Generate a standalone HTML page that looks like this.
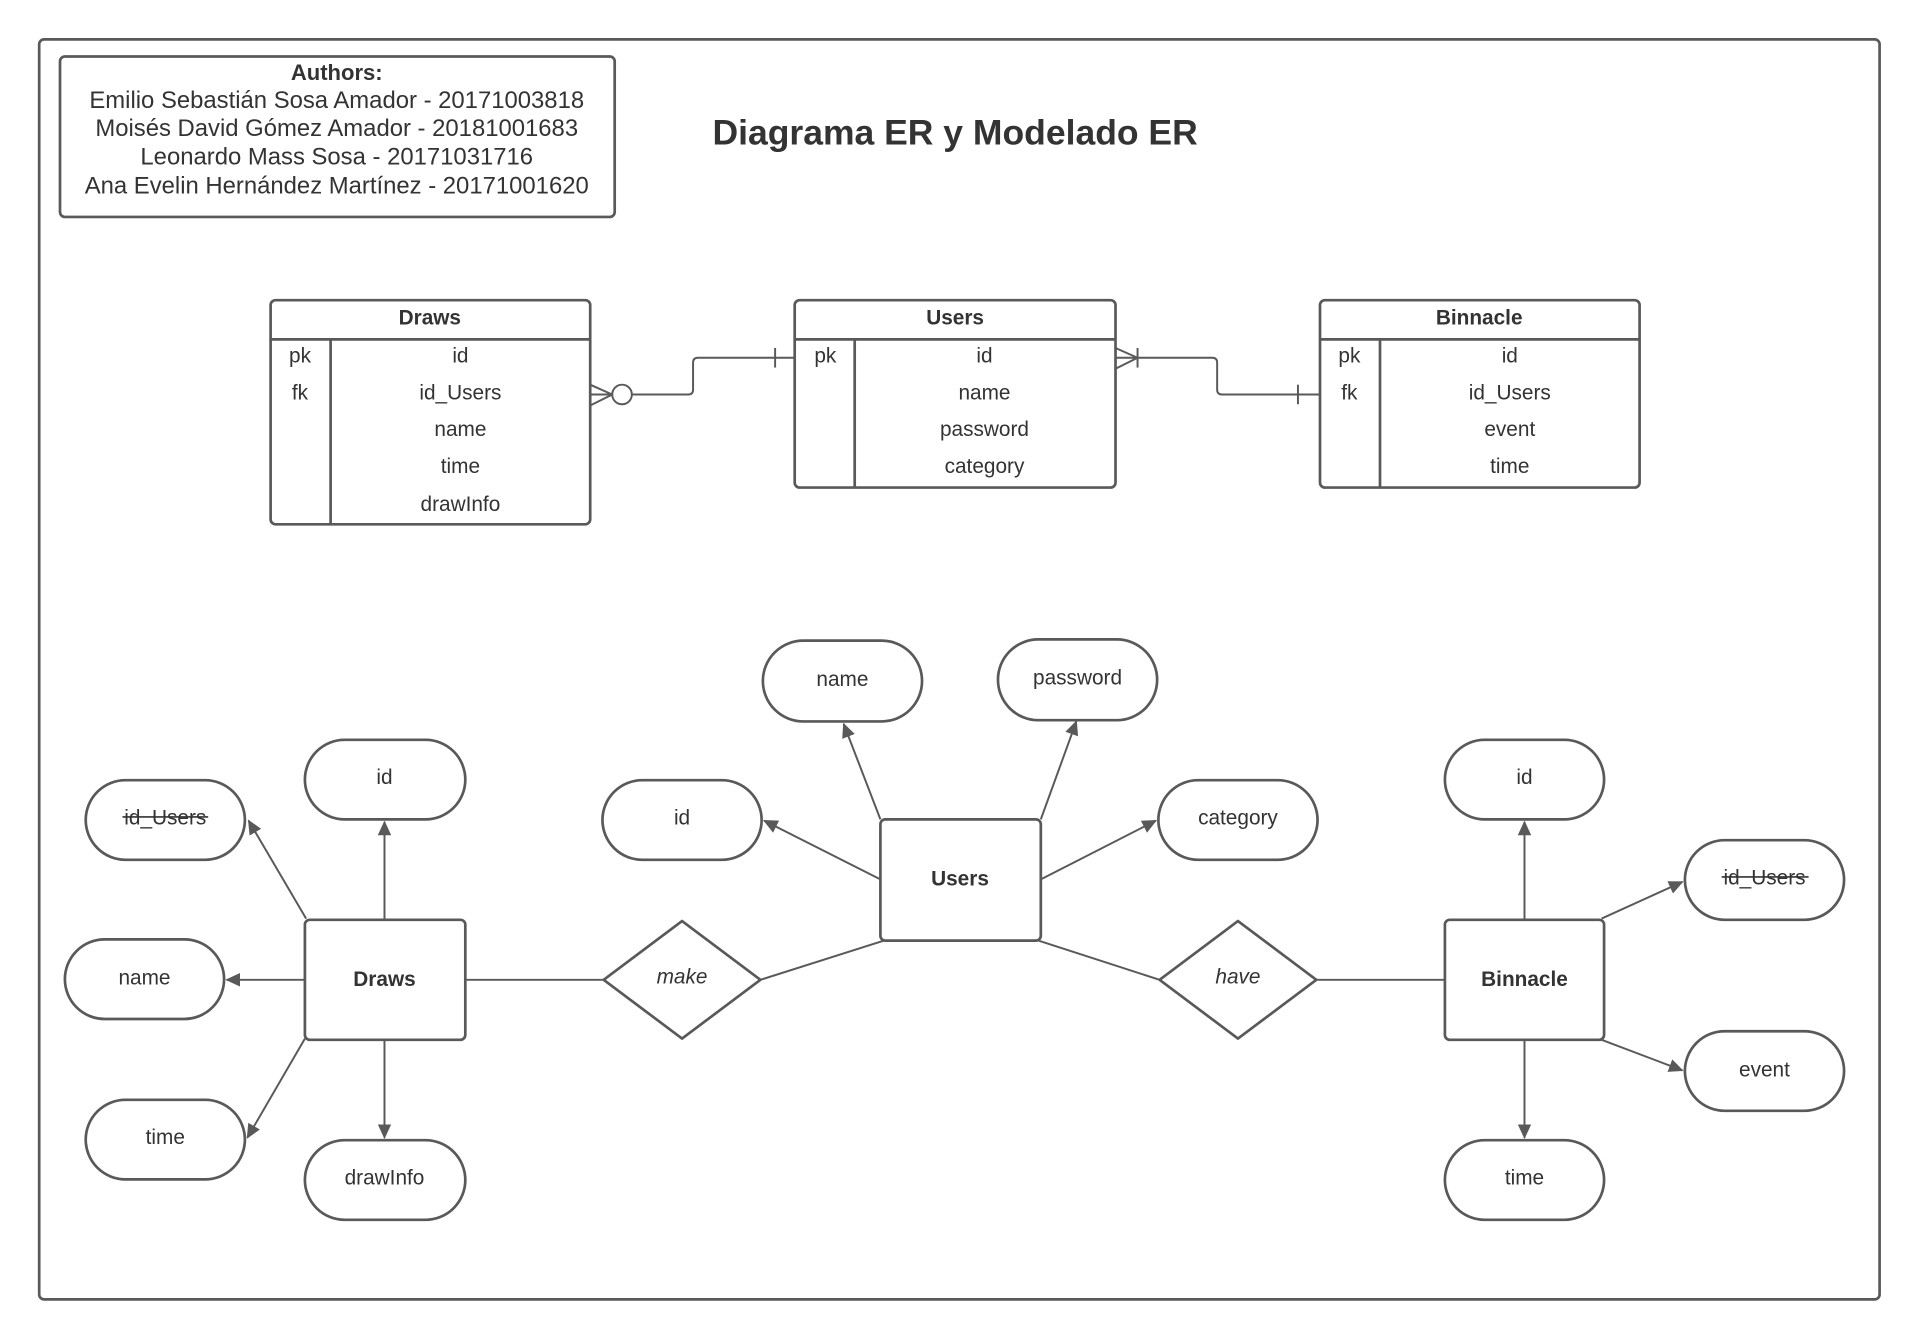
<!DOCTYPE html>
<html><head><meta charset="utf-8"><style>
html,body{margin:0;padding:0;background:#fff;}
svg{display:block;}
text{font-family:"Liberation Sans",sans-serif;fill:#333;}
</style></head><body>
<svg width="1920" height="1340" viewBox="0 0 1568 1094" xmlns="http://www.w3.org/2000/svg">
<defs>
<marker id="a" markerWidth="12" markerHeight="12" refX="11" refY="6" orient="auto" markerUnits="userSpaceOnUse">
<path d="M0,0.5 L12,6 L0,11.5 z" fill="#595959"/></marker>
</defs>
<g fill="none" stroke="#595959" stroke-width="2.2">
<rect x="32" y="32" width="1503" height="1029" rx="4"/>
<rect x="49" y="46" width="453" height="131" rx="4"/>
<rect x="221" y="245" width="261" height="183" rx="4"/>
<line x1="221" y1="277" x2="482" y2="277"/><line x1="270" y1="277" x2="270" y2="428"/>
<rect x="649" y="245" width="262" height="153" rx="4"/>
<line x1="649" y1="277" x2="911" y2="277"/><line x1="698" y1="277" x2="698" y2="398"/>
<rect x="1078" y="245" width="261" height="153" rx="4"/>
<line x1="1078" y1="277" x2="1339" y2="277"/><line x1="1127" y1="277" x2="1127" y2="398"/>
</g>
<g fill="none" stroke="#595959" stroke-width="1.6">
<path d="M482,314 L500,322 L482,331 M482,322 L500,322"/>
<circle cx="508" cy="322" r="8" fill="#fff"/>
<path d="M516,322 L562,322 Q566,322 566,318 L566,296 Q566,292 570,292 L649,292"/>
<line x1="633" y1="284" x2="633" y2="300"/>
<path d="M911,284 L929,292 L911,301 M911,292 L990,292 Q994,292 994,296 L994,318 Q994,322 998,322 L1078,322"/>
<line x1="929" y1="284" x2="929" y2="300"/>
<line x1="1060" y1="314" x2="1060" y2="330"/>
</g>
<g font-size="19.5" text-anchor="middle">
<text x="275" y="65" font-weight="bold" font-size="18">Authors:</text>
<text x="275" y="88">Emilio Sebastián Sosa Amador - 20171003818</text>
<text x="275" y="111">Moisés David Gómez Amador - 20181001683</text>
<text x="275" y="134">Leonardo Mass Sosa - 20171031716</text>
<text x="275" y="158">Ana Evelin Hernández Martínez - 20171001620</text>
</g>
<text x="780" y="118" font-size="29" font-weight="bold" text-anchor="middle">Diagrama ER y Modelado ER</text>
<g font-size="17" text-anchor="middle">
<text x="351" y="265" font-weight="bold">Draws</text>
<text x="245" y="296">pk</text><text x="245" y="326">fk</text>
<text x="376" y="296">id</text><text x="376" y="326">id_Users</text><text x="376" y="356">name</text><text x="376" y="386">time</text><text x="376" y="417">drawInfo</text>
<text x="780" y="265" font-weight="bold">Users</text>
<text x="674" y="296">pk</text>
<text x="804" y="296">id</text><text x="804" y="326">name</text><text x="804" y="356">password</text><text x="804" y="386">category</text>
<text x="1208" y="265" font-weight="bold">Binnacle</text>
<text x="1102" y="296">pk</text><text x="1102" y="326">fk</text>
<text x="1233" y="296">id</text><text x="1233" y="326">id_Users</text><text x="1233" y="356">event</text><text x="1233" y="386">time</text>
</g>
<g stroke="#595959" stroke-width="1.6" fill="none">
<line x1="380" y1="800" x2="493" y2="800"/>
<line x1="621" y1="800" x2="722" y2="768"/>
<line x1="848" y1="768" x2="947" y2="800"/>
<line x1="1075" y1="800" x2="1180" y2="800"/>
<g marker-end="url(#a)">
<line x1="314" y1="751" x2="314" y2="671"/>
<line x1="250" y1="750" x2="203" y2="670"/>
<line x1="249" y1="800" x2="185" y2="800"/>
<line x1="249" y1="848" x2="202" y2="929"/>
<line x1="314" y1="849" x2="314" y2="929"/>
<line x1="719" y1="718" x2="624" y2="670"/>
<line x1="719" y1="669" x2="689" y2="591"/>
<line x1="850" y1="669" x2="879" y2="589"/>
<line x1="850" y1="718" x2="944" y2="670"/>
<line x1="1245" y1="751" x2="1245" y2="671"/>
<line x1="1308" y1="750" x2="1374" y2="720"/>
<line x1="1308" y1="849" x2="1374" y2="874"/>
<line x1="1245" y1="849" x2="1245" y2="929"/>
</g>
</g>
<g fill="#fff" stroke="#595959" stroke-width="2.2">
<rect x="249" y="751" width="131" height="98" rx="4"/>
<rect x="719" y="669" width="131" height="99" rx="4"/>
<rect x="1180" y="751" width="130" height="98" rx="4"/>
<path d="M557,752 L621,800 L557,848 L493,800 Z" stroke-linejoin="round"/>
<path d="M1011,752 L1075,800 L1011,848 L947,800 Z" stroke-linejoin="round"/>
<rect x="249" y="604" width="131" height="65" rx="32.5"/>
<rect x="70" y="637" width="130" height="65" rx="32.5"/>
<rect x="53" y="767" width="130" height="65" rx="32.5"/>
<rect x="70" y="898" width="130" height="65" rx="32.5"/>
<rect x="249" y="931" width="131" height="65" rx="32.5"/>
<rect x="623" y="523" width="130" height="66" rx="33"/>
<rect x="815" y="522" width="130" height="66" rx="33"/>
<rect x="492" y="637" width="130" height="65" rx="32.5"/>
<rect x="946" y="637" width="130" height="65" rx="32.5"/>
<rect x="1180" y="604" width="130" height="65" rx="32.5"/>
<rect x="1376" y="686" width="130" height="65" rx="32.5"/>
<rect x="1376" y="842" width="130" height="65" rx="32.5"/>
<rect x="1180" y="931" width="130" height="65" rx="32.5"/>
</g>
<g font-size="17" text-anchor="middle">
<text x="314" y="805" font-weight="bold">Draws</text>
<text x="784" y="723" font-weight="bold">Users</text>
<text x="1245" y="805" font-weight="bold">Binnacle</text>
<text x="557" y="803" font-style="italic">make</text>
<text x="1011" y="803" font-style="italic">have</text>
<text x="314" y="640">id</text>
<text x="135" y="673">id_Users</text>
<text x="118" y="804">name</text>
<text x="135" y="934">time</text>
<text x="314" y="967">drawInfo</text>
<text x="688" y="560">name</text>
<text x="880" y="559">password</text>
<text x="557" y="673">id</text>
<text x="1011" y="673">category</text>
<text x="1245" y="640">id</text>
<text x="1441" y="722">id_Users</text>
<text x="1441" y="879">event</text>
<text x="1245" y="967">time</text>
</g>
<g stroke="#333" stroke-width="1.3">
<line x1="100" y1="667" x2="170" y2="667"/>
<line x1="1406" y1="716" x2="1477" y2="716"/>
</g>
</svg>
</body></html>
